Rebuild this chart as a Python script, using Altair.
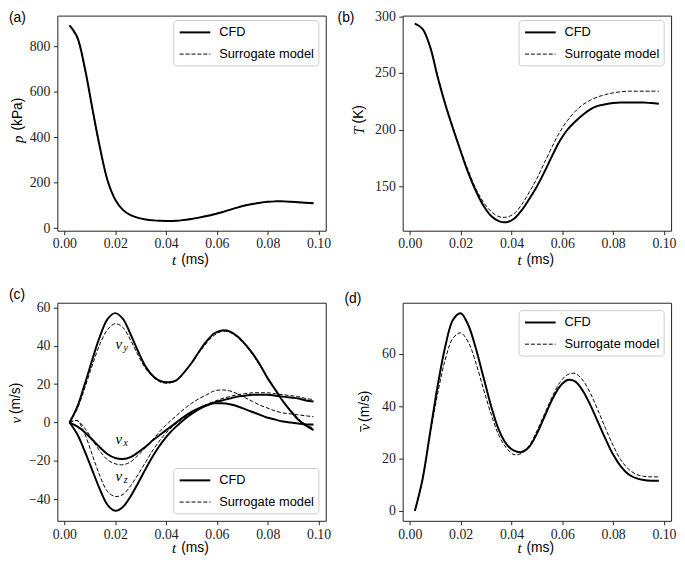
import altair as alt
import pandas as pd

# ---------------- data ----------------
t = [0.002, 0.005, 0.008, 0.011, 0.014, 0.017, 0.020, 0.023, 0.026, 0.029,
     0.032, 0.035, 0.038, 0.041, 0.044, 0.047, 0.050, 0.053, 0.056, 0.059,
     0.062, 0.065, 0.068, 0.071, 0.074, 0.077, 0.080, 0.083, 0.086, 0.089,
     0.092, 0.095, 0.098]

p_cfd = [891, 840, 705, 525, 352, 208, 125, 80, 57, 45, 38, 34, 32, 31, 32, 35.5,
         40, 46, 53, 61, 70, 80, 90, 99, 106, 111.5, 115.5, 117.5, 117.5, 116, 114, 111, 109]
p_sur = [889, 835, 698, 518, 348, 206, 124, 80, 57, 45, 38, 34, 32, 31.5, 32.5, 36,
         41, 47, 54, 62, 71, 81, 91, 100, 107, 112, 116, 118, 118, 116.5, 114.5, 111.5, 109.5]

T_cfd = [293.5, 289, 273, 246, 222, 201, 181, 162, 146, 133, 124, 119.5, 118.5, 121.5,
         129, 139, 150, 163, 177, 190, 200, 207, 213, 218, 221, 222.5, 223.5, 224, 224,
         224, 224, 223.5, 223]
T_sur = [293.5, 289, 273, 247, 223, 202, 182, 164, 148, 136, 128, 123.5, 123, 126,
         134, 145, 157, 171, 185, 198, 208, 216, 222, 226, 229, 231, 232.5, 233.5, 234,
         234, 234, 234, 234]

vy_cfd = [0, 8, 20, 33, 45, 54, 57, 54, 46, 37, 29, 24, 21.5, 21, 22, 26, 31, 37, 42.5,
          46.5, 48, 47.5, 45, 41, 36, 30, 23, 17, 11, 6, 1.5, -1.5, -4]
vy_sur = [0, 7, 18, 30, 41, 48.5, 51.5, 49.5, 43, 35, 28, 23.5, 21, 20.5, 22, 26, 31,
          36.5, 41.5, 45.5, 47.5, 47, 44.5, 40.5, 35.5, 29.5, 23, 17, 11, 6.5, 2, -1, -3]
vx_cfd = [0, -2, -5, -9, -13, -16.5, -18.5, -19, -18, -15.5, -12.5, -9, -6, -3, 0, 3,
          5.5, 7.5, 9, 10, 10, 9.5, 8.5, 7, 5.5, 4, 2.5, 1.5, 0.5, 0, -0.5, -1, -1]
vx_sur = [0, 1, -3, -9, -15, -19.5, -21.5, -22, -20.5, -17, -13, -8.5, -4, 0, 3.5, 7,
          10, 12.5, 14.5, 16.5, 17, 16.5, 15, 13, 11, 9, 7.5, 6, 5, 4.5, 4, 3.5, 3]
vz_cfd = [0, -6, -15, -25, -35, -43, -46, -44, -38.5, -31.5, -24, -17, -11, -6, -2, 1.5,
          4.5, 7, 9, 10.5, 11.5, 12.5, 13.5, 14, 14.5, 14.5, 14.5, 14, 13.5, 13, 12.5, 11.5, 11]
vz_sur = [0, 1, -6, -17, -28, -36, -38.5, -37.5, -33, -27, -20.5, -14, -8.5, -4, -0.5,
          2.5, 5, 7.5, 9.5, 11, 12.5, 13.5, 14.5, 15, 15.5, 15.5, 15.5, 15, 14.5, 14, 13.5, 12.5, 12]

vb_cfd = [0, 12, 30, 48, 63, 73, 75.5, 71, 62, 51, 40, 31, 25.5, 23, 22.5, 24.5, 29.5,
          36, 42.5, 47.5, 50, 49.5, 46, 40.5, 34, 27.5, 21.5, 17, 14, 12.5, 11.8, 11.5, 11.5]
vb_sur = [0, 12, 29, 45, 58, 66, 68, 64.5, 56.5, 46.5, 37, 29, 24, 21.5, 22, 25, 30.5,
          37, 43.5, 49, 52, 52.5, 50, 45, 38.5, 31.5, 25, 19.5, 16, 14, 13.2, 13, 13]

x_ticks = [0.0, 0.02, 0.04, 0.06, 0.08, 0.10]
p_ticks = [0, 200, 400, 600, 800]
T_ticks = [150, 200, 250, 300]
v_ticks = [-40, -20, 0, 20, 40, 60]
vb_ticks = [0, 20, 40, 60]

comp_names = ["x", "y", "z"]
comp_label_t = [0.0214, 0.0214, 0.0214]
comp_label_v = [-8.8, 41, -28]

legend_labels = ["CFD", "Surrogate model"]

# ---------------- style ----------------
SERIF = "Liberation Serif"
SANS = "Liberation Sans"
W = 272
H1 = 218
H2 = 221
XDOM = [-0.0028, 0.1028]
one = pd.DataFrame({"k": [0]})


def long(series):
    rows = []
    for name, vals in series.items():
        for ti, vi in zip(t, vals):
            rows.append({"t": ti, "v": vi, "comp": name})
    return pd.DataFrame(rows)


def xenc():
    return alt.X("t:Q", scale=alt.Scale(domain=XDOM, nice=False, zero=False),
                 axis=alt.Axis(values=x_ticks, format=".2f", title=None))


def yenc(dom, ticks):
    return alt.Y("v:Q", scale=alt.Scale(domain=dom, nice=False, zero=False),
                 axis=alt.Axis(values=ticks, format="d", title=None))


def txt(s, x, y, font=SANS, size=14, style="normal", align="left", angle=0):
    return alt.Chart(one).mark_text(
        text=s, font=font, fontSize=size, fontStyle=style, align=align,
        baseline="middle", angle=angle, color="black"
    ).encode(x=alt.value(x), y=alt.value(y))


def legend(top):
    L = W - 7 - 147
    box = alt.Chart(one).mark_rect(
        fill="white", fillOpacity=0.85, stroke="#cccccc", strokeWidth=1, cornerRadius=3
    ).encode(x=alt.value(L), x2=alt.value(W - 7), y=alt.value(top), y2=alt.value(top + 46))
    r1 = alt.Chart(one).mark_rule(color="black", strokeWidth=2).encode(
        x=alt.value(L + 6), x2=alt.value(L + 37), y=alt.value(top + 12))
    r2 = alt.Chart(one).mark_rule(color="black", strokeWidth=1, strokeDash=[4, 2]).encode(
        x=alt.value(L + 6), x2=alt.value(L + 37), y=alt.value(top + 34))
    t1 = txt(legend_labels[0], L + 46, top + 12, size=13)
    t2 = txt(legend_labels[1], L + 46, top + 34, size=13)
    return [box, r1, r2, t1, t2]


def panel(cfd, sur, dom, ticks, H, letter, letter_xy, var, unit, ytx, unit_y, var_y,
          leg_top, xt_dy, comp_labels=False, bar=False):
    y = yenc(dom, ticks)
    l1 = alt.Chart(long(cfd)).mark_line(
        color="black", strokeWidth=2, interpolate="catmull-rom"
    ).encode(x=xenc(), y=y, detail="comp:N")
    l2 = alt.Chart(long(sur)).mark_line(
        color="black", strokeWidth=1, strokeDash=[4, 2], interpolate="catmull-rom"
    ).encode(x=xenc(), y=y, detail="comp:N")
    layers = [l1, l2]
    if comp_labels:
        labels_df = pd.DataFrame({"t": comp_label_t, "v": comp_label_v, "sub": comp_names})
        layers.append(alt.Chart(labels_df).mark_text(
            text="v", font=SERIF, fontSize=15, fontStyle="italic", color="black"
        ).encode(x=xenc(), y=yenc(dom, ticks)))
        layers.append(alt.Chart(labels_df).mark_text(
            font=SERIF, fontSize=10, fontStyle="italic", color="black", dx=7, dy=4
        ).encode(x=xenc(), y=yenc(dom, ticks), text="sub:N"))
    layers += legend(leg_top)
    layers += [
        txt(letter, letter_xy[0], letter_xy[1], size=14),
        txt(unit, ytx, H / 2 + unit_y, size=14, align="left", angle=270),
        txt(var, ytx, H / 2 + var_y, font=SERIF, size=15, style="italic", align="right", angle=270),
        txt("t", W / 2 - 15.5, H + xt_dy, font=SERIF, size=15, style="italic", align="right"),
        txt("(ms)", W / 2 - 10.5, H + xt_dy, size=14),
    ]
    if bar:
        layers.append(alt.Chart(one).mark_rule(color="black", strokeWidth=1).encode(
            x=alt.value(ytx - 4.5), y=alt.value(H / 2 + var_y + 2),
            y2=alt.value(H / 2 + var_y + 8)))
    return alt.layer(*layers).properties(width=W, height=H)


pa = panel({"p": p_cfd}, {"p": p_sur}, [-11.5, 934], p_ticks, H1, "(a)", (-49, 2),
           "p", "(kPa)", -40, 7.5, 12.5, 5, 30)
pb = panel({"T": T_cfd}, {"T": T_sur}, [111, 300.6], T_ticks, H1, "(b)", (-66, 2),
           "T", "(K)", -44, 0.3, 3.3, 5, 30)
pc = panel({"x": vx_cfd, "y": vy_cfd, "z": vz_cfd}, {"x": vx_sur, "y": vy_sur, "z": vz_sur},
           [-51.2, 62.4], v_ticks, H2, "(c)", (-49, -8),
           "v", "(m/s)", -42, 2.3, 5.3, H2 - 53, 28, comp_labels=True)
pd_ = panel({"v": vb_cfd}, {"v": vb_sur}, [-3.8, 79.5], vb_ticks, H2, "(d)", (-59, -4),
            "v", "(m/s)", -38, 10.3, 12.3, 8, 28, bar=True)

chart = alt.concat(
    pa, pb, pc, pd_, columns=2, bounds="flush",
    spacing={"row": 73, "column": 78},
).properties(
    padding={"top": -3, "left": 0, "right": 0, "bottom": 0}
).configure_view(
    stroke="#222", strokeWidth=1
).configure_axis(
    domain=False, grid=False, tickColor="#222", tickSize=4, tickWidth=1,
    labelFont=SERIF, labelFontSize=14, labelColor="#222", labelFlush=False
).configure_axisX(labelPadding=2.5).configure_axisY(labelPadding=3.5)

chart.save("out.html", embed_options={"renderer": "svg", "actions": False})
